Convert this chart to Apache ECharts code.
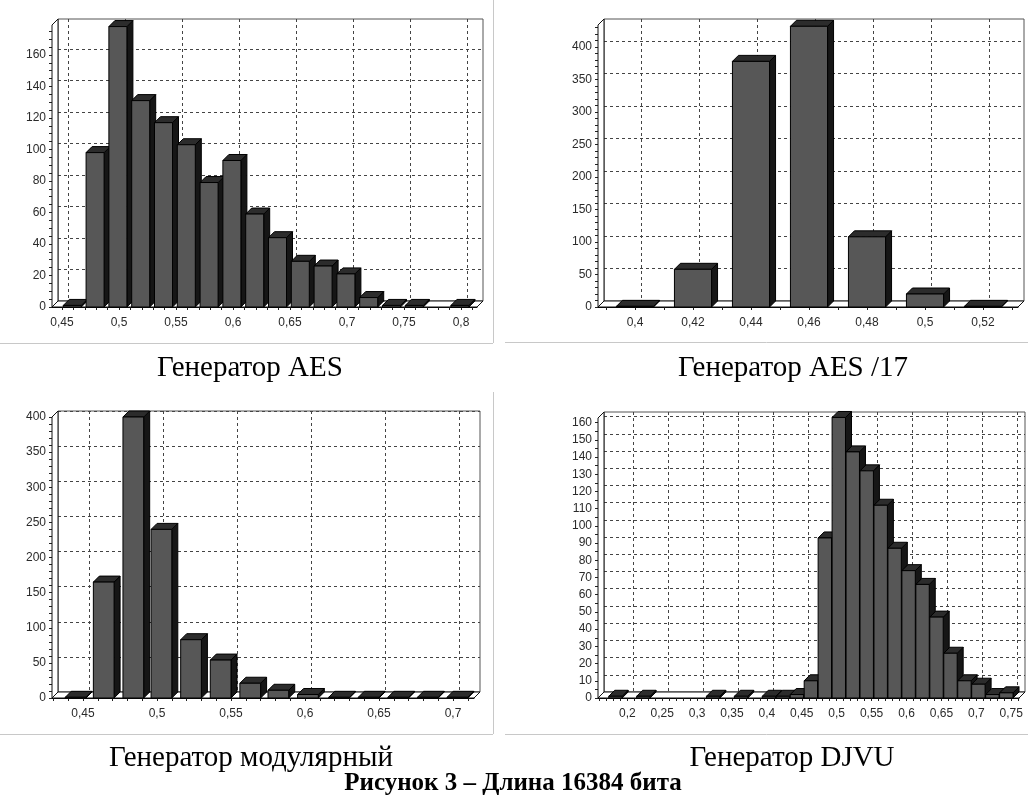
<!DOCTYPE html>
<html><head><meta charset="utf-8">
<script src="https://cdn.jsdelivr.net/npm/echarts@6/dist/echarts.min.js"></script>
<style>html,body{margin:0;padding:0;background:#fff}#c{width:1028px;height:801px}</style>
</head><body><div id="c"></div>
<script>
// ---------- DATA ----------
// Генератор AES
const aesX = [0.459, 0.479, 0.499, 0.519, 0.539, 0.559, 0.579, 0.599, 0.619, 0.639, 0.659, 0.679, 0.699, 0.719, 0.739, 0.759, 0.799];
const aesY = [1, 98, 178, 131, 117, 103, 79, 93, 59, 44, 29, 26, 21, 6, 1, 1, 1];
const aesXLabels = [0.45, 0.5, 0.55, 0.6, 0.65, 0.7, 0.75, 0.8];
const aesYLabels = [0, 20, 40, 60, 80, 100, 120, 140, 160];

// Генератор AES /17
const aes17X = [0.40, 0.42, 0.44, 0.46, 0.48, 0.50, 0.52];
const aes17Y = [1, 58, 378, 432, 108, 20, 1];
const aes17XLabels = [0.4, 0.42, 0.44, 0.46, 0.48, 0.5, 0.52];
const aes17YLabels = [0, 50, 100, 150, 200, 250, 300, 350, 400];

// Генератор модулярный
const modX = [0.445, 0.464, 0.484, 0.503, 0.523, 0.543, 0.563, 0.582, 0.602, 0.623, 0.643, 0.663, 0.683, 0.703];
const modY = [1, 165, 400, 240, 83, 54, 21, 11, 5, 1, 1, 1, 1, 1];
const modXLabels = [0.45, 0.5, 0.55, 0.6, 0.65, 0.7];
const modYLabels = [0, 50, 100, 150, 200, 250, 300, 350, 400];

// Генератор DJVU
const djvuX = [0.183, 0.223, 0.323, 0.363, 0.403, 0.423, 0.443, 0.463, 0.483, 0.503, 0.523, 0.543, 0.563, 0.583, 0.603, 0.623, 0.643, 0.663, 0.683, 0.703, 0.723, 0.743];
const djvuY = [1, 1, 1, 1, 1, 1, 2, 10, 93, 163, 143, 132, 112, 87, 74, 66, 47, 26, 10, 8, 2, 3];
const djvuXLabels = [0.2, 0.25, 0.3, 0.35, 0.4, 0.45, 0.5, 0.55, 0.6, 0.65, 0.7, 0.75];
const djvuYLabels = [0, 10, 20, 30, 40, 50, 60, 70, 80, 90, 100, 110, 120, 130, 140, 150, 160];

const titles = ['Генератор AES', 'Генератор AES /17', 'Генератор модулярный', 'Генератор DJVU'];
const caption = 'Рисунок 3 – Длина 16384 бита';

// ---------- LAYOUT ----------
const D = 6; // 3D depth in px
const panels = [
  { xs: aesX, ys: aesY, xl: aesXLabels, yl: aesYLabels, xStep: 0.01, yStep: 5,
    box: { left: 52, top: 25, width: 425, height: 282 }, xr: [0.4412, 0.8140], yr: [0, 179], bw: 0.0158 },
  { xs: aes17X, ys: aes17Y, xl: aes17XLabels, yl: aes17YLabels, xStep: 0.01, yStep: 10,
    box: { left: 598, top: 25, width: 420, height: 282 }, xr: [0.38724, 0.53207], yr: [0, 434], bw: 0.0128 },
  { xs: modX, ys: modY, xl: modXLabels, yl: modYLabels, xStep: 0.01, yStep: 10,
    box: { left: 52, top: 417, width: 422, height: 281 }, xr: [0.42905, 0.71419], yr: [0, 400], bw: 0.014 },
  { xs: djvuX, ys: djvuY, xl: djvuXLabels, yl: djvuYLabels, xStep: 0.01, yStep: 5,
    box: { left: 598, top: 418, width: 421, height: 280 }, xr: [0.15802, 0.76117], yr: [0, 162.7], bw: 0.0192 }
];

function steps(a, b, s) {
  const out = [];
  const start = Math.ceil(a / s - 1e-9);
  for (let k = start; k * s <= b + 1e-9; k++) out.push(+(k * s).toFixed(4));
  return out;
}
const fmt = v => String(+(+v).toFixed(3)).replace('.', ',');

const grid = [], xAxis = [], yAxis = [], series = [];
const labelStyle = { color: '#2a2a2a', fontSize: 12, fontFamily: 'Liberation Sans, Arial, sans-serif' };

panels.forEach((p, i) => {
  const fi = grid.length;
  grid.push({ left: p.box.left, top: p.box.top, width: p.box.width, height: p.box.height, show: false, containLabel: false });
  grid.push({ left: p.box.left + D, top: p.box.top - D, width: p.box.width, height: p.box.height,
    show: true, borderColor: '#555', borderWidth: 1, backgroundColor: 'transparent' });
  // front axes
  xAxis.push({ type: 'value', gridIndex: fi, min: p.xr[0], max: p.xr[1],
    axisLine: { show: true, onZero: false, lineStyle: { color: '#000', width: 1 } },
    axisTick: { show: true, length: 3, customValues: steps(p.xr[0], p.xr[1], p.xStep), lineStyle: { color: '#222' } },
    axisLabel: Object.assign({ customValues: p.xl, formatter: fmt, margin: 10, hideOverlap: false, showMinLabel: true, showMaxLabel: true }, labelStyle),
    splitLine: { show: false } });
  yAxis.push({ type: 'value', gridIndex: fi, min: p.yr[0], max: p.yr[1],
    axisLine: { show: true, onZero: false, lineStyle: { color: '#000', width: 1 } },
    axisTick: { show: true, length: 3, customValues: steps(p.yr[0], p.yr[1], p.yStep), lineStyle: { color: '#222' } },
    axisLabel: Object.assign({ customValues: p.yl, formatter: fmt, margin: 6, hideOverlap: false, showMinLabel: true, showMaxLabel: true }, labelStyle),
    splitLine: { show: false } });
  // back wall axes (grid lines only)
  xAxis.push({ type: 'value', gridIndex: fi + 1, min: p.xr[0], max: p.xr[1],
    axisLine: { show: false }, axisLabel: { show: false },
    axisTick: { show: false, customValues: p.xl },
    splitLine: { show: true, lineStyle: { color: '#444', width: 1, type: [3, 3] } } });
  yAxis.push({ type: 'value', gridIndex: fi + 1, min: p.yr[0], max: p.yr[1],
    axisLine: { show: false }, axisLabel: { show: false },
    axisTick: { show: false, customValues: p.yl.filter(v => v > 0) },
    splitLine: { show: true, lineStyle: { color: '#444', width: 1, type: [3, 3] } } });

  // floor and left wall
  series.push({ type: 'custom', xAxisIndex: fi, yAxisIndex: fi, z: 3, silent: true,
    data: [[p.xr[0], 0]],
    renderItem: (params, api) => {
      const o = api.coord([p.xr[0], p.yr[0]]);
      const e = api.coord([p.xr[1], p.yr[1]]);
      const x0 = o[0], yb = o[1], x1 = e[0], yt = e[1];
      return { type: 'group', children: [
        { type: 'polygon', shape: { points: [[x0, yb], [x1, yb], [x1 + D, yb - D], [x0 + D, yb - D]] },
          style: { fill: '#fff', stroke: '#111', lineWidth: 1 } },
        { type: 'polygon', shape: { points: [[x0, yt], [x0 + D, yt - D], [x0 + D, yb - D], [x0, yb]] },
          style: { fill: '#fff', stroke: '#111', lineWidth: 1 } }
      ] };
    } });

  // 3D bars
  const bw = p.bw;
  series.push({ type: 'custom', xAxisIndex: fi, yAxisIndex: fi, z: 4, silent: true, clip: false,
    encode: { x: 0, y: 1 },
    data: p.xs.map((x, k) => [x, p.ys[k]]),
    renderItem: (params, api) => {
      const xv = api.value(0), yv = api.value(1);
      const a = api.coord([xv - bw / 2, 0]);
      const b = api.coord([xv + bw / 2, yv]);
      const x0 = a[0], x1 = b[0], yb = a[1], yt = b[1];
      return { type: 'group', children: [
        { type: 'polygon', shape: { points: [[x1, yt], [x1 + D, yt - D], [x1 + D, yb - D], [x1, yb]] },
          style: { fill: '#161616', stroke: '#000', lineWidth: 1 } },
        { type: 'polygon', shape: { points: [[x0, yt], [x1, yt], [x1 + D, yt - D], [x0 + D, yt - D]] },
          style: { fill: '#2c2c2c', stroke: '#000', lineWidth: 1 } },
        { type: 'rect', shape: { x: x0, y: yt, width: x1 - x0, height: Math.max(0, yb - yt) },
          style: { fill: '#575757', stroke: '#000', lineWidth: 1 } }
      ] };
    } });
});

const serif = '"Liberation Serif", "Times New Roman", serif';
const graphic = [
  { type: 'line', shape: { x1: 0, y1: 343.5, x2: 493, y2: 343.5 }, style: { stroke: '#c8c8c8', lineWidth: 1 } },
  { type: 'line', shape: { x1: 493.5, y1: 0, x2: 493.5, y2: 343 }, style: { stroke: '#c8c8c8', lineWidth: 1 } },
  { type: 'line', shape: { x1: 505, y1: 342.5, x2: 1028, y2: 342.5 }, style: { stroke: '#c8c8c8', lineWidth: 1 } },
  { type: 'line', shape: { x1: 0, y1: 734.5, x2: 493, y2: 734.5 }, style: { stroke: '#c8c8c8', lineWidth: 1 } },
  { type: 'line', shape: { x1: 493.5, y1: 392, x2: 493.5, y2: 734 }, style: { stroke: '#c8c8c8', lineWidth: 1 } },
  { type: 'line', shape: { x1: 505, y1: 734.5, x2: 1028, y2: 734.5 }, style: { stroke: '#c8c8c8', lineWidth: 1 } },
  { type: 'text', x: 250, y: 368, style: { text: titles[0], font: '29px ' + serif, fill: '#000', textAlign: 'center', textVerticalAlign: 'middle' } },
  { type: 'text', x: 793, y: 368, style: { text: titles[1], font: '29px ' + serif, fill: '#000', textAlign: 'center', textVerticalAlign: 'middle' } },
  { type: 'text', x: 251, y: 758, style: { text: titles[2], font: '29px ' + serif, fill: '#000', textAlign: 'center', textVerticalAlign: 'middle' } },
  { type: 'text', x: 792, y: 758, style: { text: titles[3], font: '29px ' + serif, fill: '#000', textAlign: 'center', textVerticalAlign: 'middle' } },
  { type: 'text', x: 513, y: 784, style: { text: caption, font: 'bold 25px ' + serif, fill: '#000', textAlign: 'center', textVerticalAlign: 'middle' } }
];

const chart = echarts.init(document.getElementById('c'), null, { renderer: 'canvas' });
chart.setOption({ backgroundColor: '#fff', animation: false, grid, xAxis, yAxis, series, graphic });
</script>
</body></html>
